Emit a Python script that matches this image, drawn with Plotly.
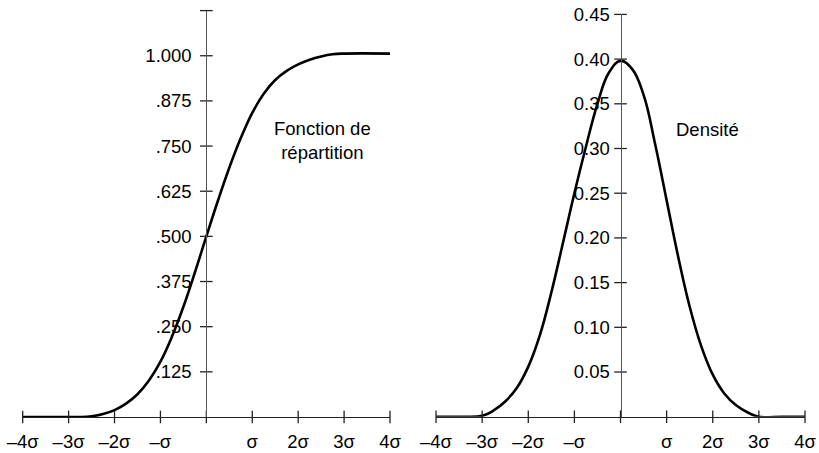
import plotly.graph_objects as go

# ---- data ----
cdf_x = [-4, -3, -2.75, -2.5, -2.25, -2, -1.75, -1.5, -1.25, -1, -0.75, -0.5, -0.25, 0,
         0.25, 0.5, 0.75, 1, 1.25, 1.5, 1.75, 2, 2.25, 2.5, 2.75, 3, 4]
cdf_y = [0, 0, 0.0, 0.002, 0.008, 0.019, 0.037, 0.063, 0.101, 0.153, 0.222, 0.305, 0.40, 0.5,
         0.598, 0.69, 0.772, 0.842, 0.895, 0.933, 0.958, 0.976, 0.989, 0.998, 1.004, 1.006, 1.006]

pdf_x = [-4, -3.5, -3, -2.75, -2.5, -2.25, -2, -1.75, -1.5, -1.25, -1, -0.75, -0.5, -0.25, 0,
         0.25, 0.5, 0.75, 1, 1.25, 1.5, 1.75, 2, 2.25, 2.5, 2.75, 3, 3.5, 4]
pdf_y = [0, 0, 0.001, 0.007, 0.017, 0.032, 0.056, 0.091, 0.139, 0.194, 0.250, 0.302, 0.350, 0.385, 0.398,
         0.389, 0.360, 0.305, 0.242, 0.179, 0.123, 0.079, 0.047, 0.026, 0.013, 0.005, 0.0, 0, 0]

x_tickvals = [-4, -3, -2, -1, 1, 2, 3, 4]
x_ticktext = ["–4σ", "–3σ", "–2σ", "–σ", "σ", "2σ", "3σ", "4σ"]
x_tickmarks = [-4, -3, -2, -1, 0, 1, 2, 3, 4]

cdf_tickvals = [0.125, 0.25, 0.375, 0.5, 0.625, 0.75, 0.875, 1.0, 1.125]
cdf_ticktext = [".125", ".250", ".375", ".500", ".625", ".750", ".875", "1.000", ""]

pdf_tickvals = [0.05, 0.10, 0.15, 0.20, 0.25, 0.30, 0.35, 0.40, 0.45]
pdf_ticktext = ["0.05", "0.10", "0.15", "0.20", "0.25", "0.30", "0.35", "0.40", "0.45"]

FONT = "Liberation Sans, Arial, Helvetica, sans-serif"
FS = 18.5

fig = go.Figure()

line_style = dict(color="black", width=2.6, shape="spline", smoothing=1.2)
fig.add_trace(go.Scatter(x=cdf_x, y=cdf_y, mode="lines", line=line_style,
                         xaxis="x", yaxis="y", cliponaxis=False, showlegend=False))
fig.add_trace(go.Scatter(x=pdf_x, y=pdf_y, mode="lines", line=line_style,
                         xaxis="x2", yaxis="y2", cliponaxis=False, showlegend=False))

# crossing tick marks
for xa, ya, yt in (("x", "y", cdf_tickvals), ("x2", "y2", pdf_tickvals)):
    fig.add_trace(go.Scatter(x=x_tickmarks, y=[0] * len(x_tickmarks), mode="markers",
                             marker=dict(symbol="line-ns", size=9, line=dict(color="#222", width=1.3)),
                             xaxis=xa, yaxis=ya, cliponaxis=False, showlegend=False, hoverinfo="skip"))
    fig.add_trace(go.Scatter(x=[0] * len(yt), y=yt, mode="markers",
                             marker=dict(symbol="line-ew", size=9, line=dict(color="#222", width=1.3)),
                             xaxis=xa, yaxis=ya, cliponaxis=False, showlegend=False, hoverinfo="skip"))

xaxis_common = dict(range=[-4, 4], showgrid=False, zeroline=False, showline=True,
                    linecolor="#222", linewidth=1.3, ticks="", tickvals=x_tickvals,
                    ticktext=x_ticktext, tickfont=dict(family=FONT, size=FS, color="black"),
                    ticklabelstandoff=8, automargin=False, fixedrange=True)
yaxis_common = dict(showgrid=False, zeroline=False, showline=True, linecolor="#555",
                    linewidth=1, ticks="", tickfont=dict(family=FONT, size=FS, color="black"),
                    automargin=False, fixedrange=True)

fig.update_layout(
    width=819, height=453,
    margin=dict(l=0, r=0, t=0, b=0, autoexpand=False),
    paper_bgcolor="white", plot_bgcolor="white",
    xaxis=dict(domain=[0.0277, 0.4762], anchor="y", **xaxis_common),
    yaxis=dict(domain=[0.0795, 0.9766], range=[0, 1.125], anchor="free",
               position=(0.0277 + 0.4762) / 2, tickvals=cdf_tickvals,
               ticktext=cdf_ticktext, ticklabelstandoff=11, **yaxis_common),
    xaxis2=dict(domain=[0.5324, 0.9829], anchor="y2", **xaxis_common),
    yaxis2=dict(domain=[0.0801, 0.9682], range=[0, 0.45], anchor="free",
                position=(0.5324 + 0.9829) / 2, tickvals=pdf_tickvals,
                ticktext=pdf_ticktext, ticklabelstandoff=7, **yaxis_common),
    annotations=[
        dict(text="Fonction de<br>répartition", x=2.52, y=0.766, xref="x", yref="y",
             showarrow=False, font=dict(family=FONT, size=FS, color="black"), align="center"),
        dict(text="Densité", x=1.88, y=0.321, xref="x2", yref="y2",
             showarrow=False, font=dict(family=FONT, size=FS, color="black")),
    ],
)

fig.write_html("out.html")
